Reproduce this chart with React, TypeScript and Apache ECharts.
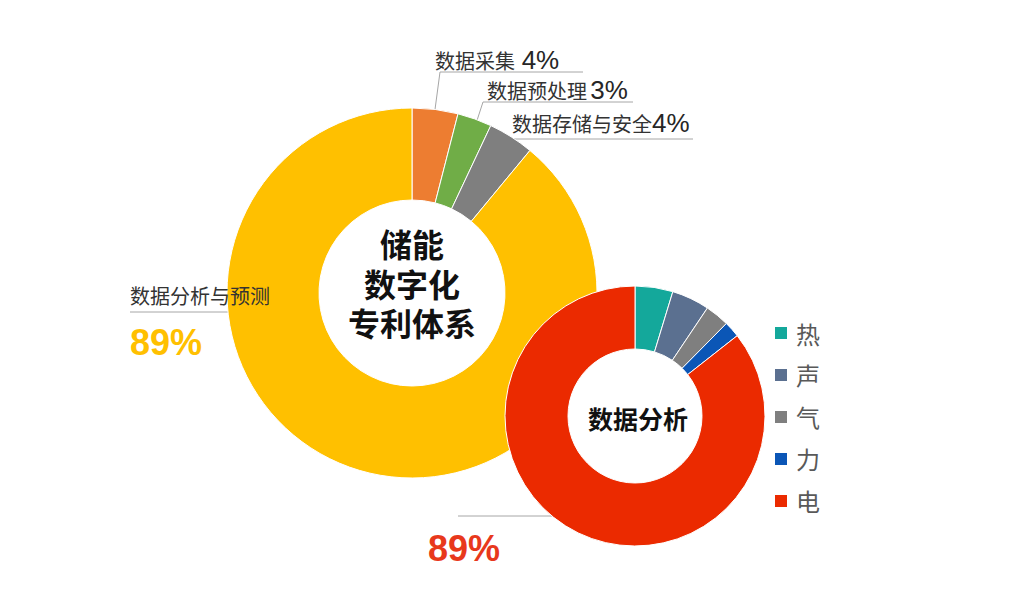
import React, { useEffect, useRef } from "react";
import * as echarts from "echarts";

const bigNames = ["数据采集", "数据预处理", "数据存储与安全", "数据分析与预测"];
const bigValues = [4, 3, 4, 89];
const bigColors = ["#ED7D31", "#70AD47", "#7F7F7F", "#FFC000"];

const smallNames = ["热", "声", "气", "力", "电"];
const smallValues = [4.7, 4.7, 3.0, 2.0, 85.6];
const smallColors = ["#14A89B", "#5B7090", "#7F7F7F", "#0B56B6", "#EB2A00"];
const smallLabels = ["", "", "", "", "89%"];

const bigCenterLines = ["储能", "数字化", "专利体系"];
const smallCenterText = "数据分析";

const FONT = "'Liberation Sans', Arial, 'Noto Sans CJK SC', sans-serif";
const CJK = "'Noto Sans CJK SC', sans-serif";

export default function App() {
  const ref = useRef<HTMLDivElement>(null);
  useEffect(() => {
    if (!ref.current) return;
    const chart = echarts.init(ref.current, null, { renderer: "svg" });
    const bigLayout: any[] = [
      { x: 435, y: 60, points: [[432, 132], [440, 72], [583, 72]] },
      { x: 487, y: 90, points: [[470, 142], [483, 102], [633, 102]] },
      { x: 512, y: 123, points: [[500, 172], [514, 139], [693, 139]] },
      { x: 130, y: 280, top: true, points: [[293, 295], [270, 312], [130, 312]] },
    ];
    const centerYs = [243, 283, 322];
    const option: any = {
      animation: false,
      backgroundColor: "#ffffff",
      legend: {
        data: smallNames,
        orient: "vertical",
        left: 773,
        top: 321,
        padding: 0,
        itemWidth: 14,
        itemHeight: 14,
        itemGap: 18,
        icon: "rect",
        textStyle: { fontSize: 24, color: "#595959", fontFamily: CJK, padding: [0, 0, 0, 3] },
      },
      graphic: [
        ...bigCenterLines.map((t, i) => ({
          type: "text",
          x: 412,
          y: centerYs[i],
          z: 100,
          style: {
            text: t,
            fontSize: 32,
            fontWeight: "bold",
            fill: "#111111",
            fontFamily: CJK,
            align: "center",
            verticalAlign: "middle",
          },
        })),
        {
          type: "text",
          x: 638,
          y: 418,
          z: 100,
          style: {
            text: smallCenterText,
            fontSize: 25,
            fontWeight: "bold",
            fill: "#111111",
            fontFamily: CJK,
            align: "center",
            verticalAlign: "middle",
          },
        },
      ],
      series: [
        {
          type: "pie",
          name: "big",
          center: [412, 293],
          radius: [93, 185],
          startAngle: 90,
          avoidLabelOverlap: false,
          itemStyle: { borderColor: "#ffffff", borderWidth: 1 },
          emphasis: { disabled: true },
          data: bigNames.map((n, i) => ({
            name: n,
            value: bigValues[i],
            itemStyle: { color: bigColors[i] },
          })),
          label: {
            show: true,
            position: "outside",
            fontFamily: FONT,
            formatter: (p: any) => {
              const i = p.dataIndex;
              if (i === 3) return `{n|${p.name}}\n{y|${p.value}%}`;
              const sep = i === 0 ? "  " : i === 1 ? " " : "";
              return `{n|${p.name}}${sep}{p|${p.value}%}`;
            },
            rich: {
              n: { fontSize: 20, color: "#333333", fontFamily: CJK, lineHeight: 30 },
              p: { fontSize: 26, color: "#262626", fontFamily: FONT, lineHeight: 30 },
              y: { fontSize: 36, fontWeight: "bold", color: "#FFC000", fontFamily: FONT, lineHeight: 64 },
            },
          },
          labelLine: { show: true, smooth: false, lineStyle: { color: "#A6A6A6", width: 1 } },
          labelLayout: (params: any) => {
            const l = bigLayout[params.dataIndex];
            return {
              x: l.x,
              y: l.y,
              align: "left",
              verticalAlign: l.top ? "top" : "middle",
              labelLinePoints: l.points,
            };
          },
        },
        {
          type: "pie",
          name: "small",
          center: [635, 416],
          radius: [67, 130],
          startAngle: 90,
          avoidLabelOverlap: false,
          itemStyle: { borderColor: "#ffffff", borderWidth: 1 },
          emphasis: { disabled: true },
          data: smallNames.map((n, i) => ({
            name: n,
            value: smallValues[i],
            itemStyle: { color: smallColors[i] },
            label: { show: smallLabels[i] !== "" },
            labelLine: { show: smallLabels[i] !== "" },
          })),
          label: {
            position: "outside",
            fontFamily: FONT,
            fontSize: 36,
            fontWeight: "bold",
            color: "#E8381C",
            formatter: (p: any) => smallLabels[p.dataIndex],
          },
          labelLine: { smooth: false, lineStyle: { color: "#A6A6A6", width: 1 } },
          labelLayout: (params: any) => {
            if (params.dataIndex !== 4) return {};
            return {
              x: 428,
              y: 548,
              align: "left",
              verticalAlign: "middle",
              labelLinePoints: [[575, 503], [560, 516], [458, 516]],
            };
          },
        },
      ],
    };
    chart.setOption(option);
    return () => chart.dispose();
  }, []);
  return (
    <div
      ref={ref}
      style={{ position: "absolute", left: 0, top: 0, width: 1024, height: 613 }}
    />
  );
}
